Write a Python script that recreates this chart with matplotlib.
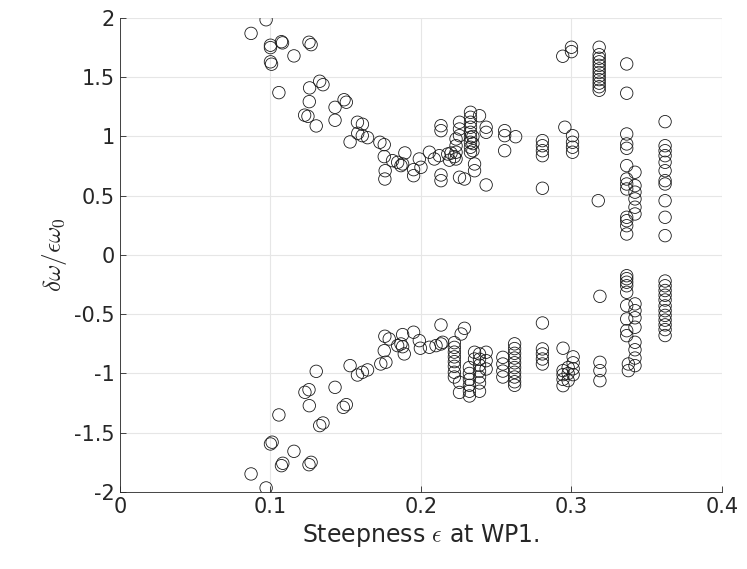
import numpy as np
import matplotlib
matplotlib.use("Agg")
import matplotlib.pyplot as plt

# upper branch
x_up = [0.0871, 0.0971, 0.100, 0.100, 0.1073, 0.108, 0.1156, 0.100, 0.1007, 0.1256, 0.127,
        0.1056, 0.1327, 0.1349, 0.126, 0.1258, 0.1227, 0.1249, 0.1304, 0.1429, 0.1489, 0.1504,
        0.1429, 0.1578, 0.1611, 0.158, 0.161, 0.1645, 0.1529, 0.1727, 0.1756, 0.1756, 0.1762,
        0.176, 0.1811, 0.1845, 0.1878, 0.1893, 0.1867, 0.1951, 0.1951, 0.1989, 0.200, 0.2056,
        0.2089, 0.2122, 0.2133, 0.2133, 0.2133, 0.2133, 0.2178, 0.2189, 0.2200, 0.2222,
        0.2233, 0.2233, 0.2233, 0.2233, 0.2256, 0.2256, 0.2256, 0.2256, 0.2289,
        0.2329, 0.2329, 0.2329, 0.2329, 0.2329, 0.2329, 0.2329, 0.2329, 0.2329,
        0.2345, 0.2345, 0.2345, 0.2356, 0.2356, 0.2389, 0.2433, 0.2433, 0.2433,
        0.2556, 0.2556, 0.2556, 0.2629, 0.2807, 0.2807, 0.2807, 0.2807, 0.2807,
        0.2956, 0.3007, 0.3007, 0.3007, 0.3007, 0.2942, 0.300, 0.300,
        0.3184, 0.3184, 0.3184, 0.3184, 0.3184, 0.3184, 0.3184, 0.3184, 0.3184, 0.3184, 0.3184, 0.3184,
        0.3178, 0.3367, 0.3367, 0.3367, 0.3367, 0.3367, 0.3367, 0.3367, 0.3367, 0.3367,
        0.3422, 0.3422, 0.3422, 0.3422, 0.3422, 0.3422, 0.3367, 0.3367, 0.3367, 0.3367,
        0.3622, 0.3622, 0.3622, 0.3622, 0.3622, 0.3622, 0.3622, 0.3622, 0.3622, 0.3622, 0.3622]
y_up = [1.87, 1.985, 1.77, 1.75, 1.80, 1.79, 1.68, 1.63, 1.61, 1.795, 1.775,
        1.37, 1.466, 1.437, 1.41, 1.294, 1.18, 1.17, 1.089, 1.246, 1.31, 1.289,
        1.137, 1.12, 1.103, 1.027, 1.007, 0.99, 0.954, 0.951, 0.931, 0.83, 0.711,
        0.641, 0.796, 0.782, 0.768, 0.861, 0.754, 0.72, 0.669, 0.81, 0.74, 0.867,
        0.81, 0.838, 1.091, 1.049, 0.675, 0.627, 0.852, 0.80, 0.86, 0.83,
        0.979, 0.922, 0.867, 0.81, 1.12, 1.063, 1.007, 0.656, 0.641,
        1.204, 1.162, 1.12, 1.078, 1.035, 0.993, 0.951, 0.909, 0.867,
        1.00, 0.94, 0.88, 0.768, 0.711, 1.175, 1.078, 1.035, 0.591,
        1.049, 1.007, 0.88, 0.998, 0.965, 0.922, 0.88, 0.838, 0.563,
        1.078, 1.007, 0.951, 0.909, 0.867, 1.677, 1.753, 1.716,
        1.753, 1.69, 1.66, 1.63, 1.60, 1.57, 1.54, 1.51, 1.48, 1.45, 1.42, 1.39,
        0.458, 1.612, 1.365, 1.021, 0.937, 0.90, 0.754, 0.641, 0.599, 0.557,
        0.698, 0.585, 0.53, 0.473, 0.403, 0.346, 0.318, 0.289, 0.247, 0.177,
        1.125, 0.922, 0.88, 0.838, 0.782, 0.711, 0.627, 0.599, 0.458, 0.318, 0.163]

# lower branch
x_lo = [0.0871, 0.0971, 0.100, 0.1011, 0.1056, 0.1073, 0.1082, 0.1156, 0.1256, 0.127,
        0.1229, 0.1256, 0.1258, 0.1304, 0.1327, 0.1349, 0.1429, 0.1484, 0.1504, 0.1529,
        0.1578, 0.1611, 0.1645, 0.1733, 0.1767, 0.1756, 0.176, 0.1789, 0.1845, 0.1867,
        0.1878, 0.1889, 0.1878, 0.1951, 0.1989, 0.1996, 0.2056, 0.210, 0.2133, 0.2144,
        0.2133, 0.2289, 0.2267,
        0.2222, 0.2222, 0.2222, 0.2222, 0.2222, 0.2222, 0.2222, 0.2222, 0.2256, 0.2256,
        0.2322, 0.2322, 0.2322, 0.2322, 0.2322, 0.2322, 0.2356, 0.2356,
        0.2389, 0.2389, 0.2389, 0.2389, 0.2389, 0.2389, 0.2389, 0.2433, 0.2433, 0.2433,
        0.2544, 0.2544, 0.2544, 0.2544,
        0.2622, 0.2622, 0.2622, 0.2622, 0.2622, 0.2622, 0.2622, 0.2622, 0.2622, 0.2622,
        0.2807, 0.2807, 0.2807, 0.2807, 0.2807, 0.2944,
        0.2944, 0.2944, 0.2944, 0.2944, 0.2978, 0.2978, 0.2978, 0.3011, 0.3011, 0.3011, 0.3011,
        0.3189, 0.3189, 0.3189, 0.3189,
        0.3367, 0.3367, 0.3367, 0.3367, 0.3367, 0.3367, 0.3367, 0.3367, 0.3367,
        0.3422, 0.3422, 0.3422, 0.3422, 0.3422, 0.3422, 0.3422, 0.3422, 0.3378, 0.3378,
        0.3622, 0.3622, 0.3622, 0.3622, 0.3622, 0.3622, 0.3622, 0.3622, 0.3622, 0.3622, 0.3622, 0.3622]
y_lo = [-1.848, -1.966, -1.595, -1.58, -1.35, -1.778, -1.758, -1.657, -1.77, -1.75,
        -1.159, -1.137, -1.272, -0.982, -1.44, -1.418, -1.117, -1.286, -1.263, -0.934,
        -1.013, -0.99, -0.97, -0.92, -0.905, -0.808, -0.686, -0.709, -0.765, -0.751,
        -0.774, -0.835, -0.672, -0.652, -0.723, -0.787, -0.779, -0.765, -0.751, -0.737,
        -0.591, -0.619, -0.667,
        -0.74, -0.78, -0.82, -0.86, -0.90, -0.94, -0.99, -1.03, -1.075, -1.16,
        -0.95, -1.0, -1.05, -1.10, -1.15, -1.19, -0.821, -0.878,
        -0.835, -0.88, -0.93, -0.98, -1.03, -1.08, -1.15, -0.821, -0.892, -0.962,
        -0.864, -0.92, -0.98, -1.03,
        -0.75, -0.79, -0.83, -0.87, -0.91, -0.95, -0.99, -1.03, -1.07, -1.10,
        -0.574, -0.793, -0.835, -0.878, -0.92, -0.787,
        -0.976, -1.01, -1.05, -1.103, -0.95, -1.0, -1.06, -0.86, -0.91, -0.96, -1.01,
        -0.349, -0.906, -0.976, -1.061,
        -0.175, -0.20, -0.23, -0.26, -0.315, -0.428, -0.54, -0.639, -0.681,
        -0.413, -0.47, -0.53, -0.61, -0.737, -0.80, -0.87, -0.934, -0.92, -0.976,
        -0.22, -0.26, -0.30, -0.34, -0.38, -0.43, -0.47, -0.51, -0.55, -0.59, -0.63, -0.68]

x_ticks = [0, 0.1, 0.2, 0.3, 0.4]
y_ticks = [-2, -1.5, -1, -0.5, 0, 0.5, 1, 1.5, 2]

plt.rcParams['mathtext.fontset'] = 'cm'

fig = plt.figure(figsize=(7.47, 5.69), dpi=100)
ax = fig.add_axes([0.1606, 0.1354, 0.8059, 0.8330])

xs = np.array(x_up + x_lo)
ys = np.array(y_up + y_lo)
ax.scatter(xs, ys, s=80, facecolors='none', edgecolors='#1a1a1a', linewidths=0.6, zorder=3)

ax.set_xlim(0, 0.4)
ax.set_ylim(-2, 2)
ax.set_xticks(x_ticks)
ax.set_yticks(y_ticks)
ax.set_xticklabels(['0', '0.1', '0.2', '0.3', '0.4'])
ax.set_yticklabels(['-2', '-1.5', '-1', '-0.5', '0', '0.5', '1', '1.5', '2'])
ax.tick_params(labelsize=15, colors='#262626', length=4, width=0.6, direction='in')
ax.grid(True, color='#e6e6e6', linewidth=0.8)
ax.set_axisbelow(True)
for side in ['top', 'right']:
    ax.spines[side].set_visible(False)
for side in ['left', 'bottom']:
    ax.spines[side].set_color('#262626')
    ax.spines[side].set_linewidth(0.6)

ax.set_xlabel(r'Steepness $\epsilon$ at WP1.', fontsize=17, color='#262626')
ax.set_ylabel(r'$\delta\omega/\epsilon\omega_0$', fontsize=18, color='#262626')

fig.savefig('out.png', dpi=100)
